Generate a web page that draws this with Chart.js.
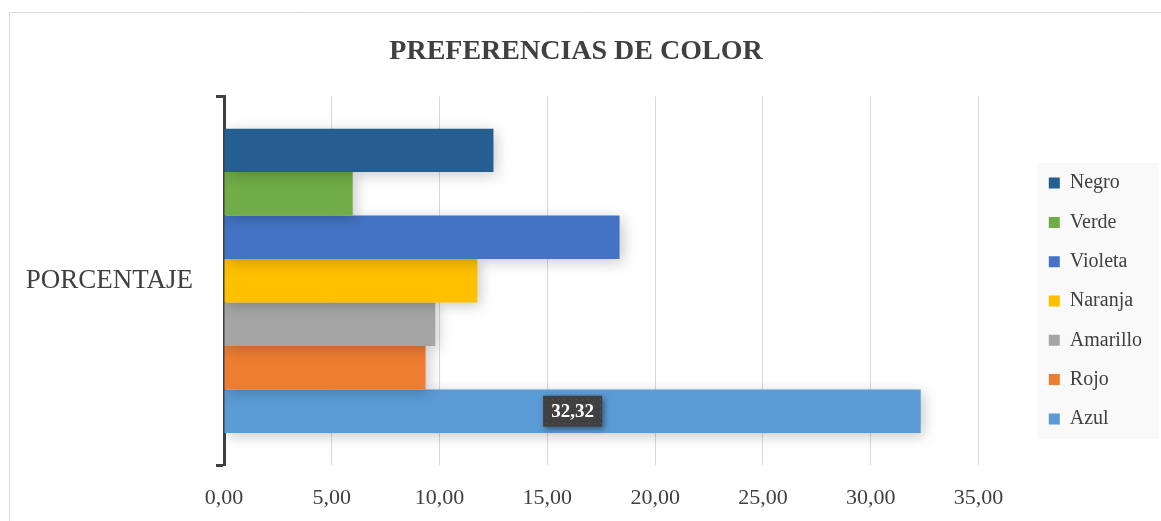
<!DOCTYPE html>
<html>
<head>
<meta charset="utf-8">
<script src="https://cdn.jsdelivr.net/npm/chart.js@4.4.1/dist/chart.umd.min.js"></script>
<style>
  html, body { margin: 0; padding: 0; background: #fff; overflow: hidden; }
  canvas { display: block; }
</style>
</head>
<body>
<canvas id="colorChart" width="1161" height="521"></canvas>
<script>
// datos
const categories = ["PORCENTAJE"];
const seriesNames = ["Negro", "Verde", "Violeta", "Naranja", "Amarillo", "Rojo", "Azul"];
const seriesValues = [12.5, 5.97, 18.35, 11.75, 9.8, 9.35, 32.32];
const seriesColors = ["#255e91", "#70ad47", "#4472c4", "#ffc000", "#a5a5a5", "#ed7d31", "#5b9bd5"];
const xTicks = [0, 5, 10, 15, 20, 25, 30, 35];
const labelledSeries = "Azul";

const fmt = v => v.toFixed(2).replace(".", ",");

// marco, fondo de leyenda, sombra y etiqueta de datos
const decor = {
    id: "decor",
    beforeDraw(chart) {
        const ctx = chart.ctx;
        ctx.save();
        ctx.strokeStyle = "#d9d9d9";
        ctx.lineWidth = 1;
        ctx.beginPath();
        ctx.moveTo(9.5, chart.height);
        ctx.lineTo(9.5, 12.5);
        ctx.lineTo(chart.width, 12.5);
        ctx.stroke();
        const boxes = chart.legend.legendHitBoxes;
        if (boxes && boxes.length) {
            const left = Math.min(...boxes.map(b => b.left)) - 12;
            const right = Math.max(...boxes.map(b => b.left + b.width)) + 17;
            const top = boxes[0].top - 10;
            const last = boxes[boxes.length - 1];
            const bottom = last.top + last.height + 10;
            ctx.fillStyle = "#f9f9f9";
            ctx.fillRect(left, top, right - left, bottom - top);
        }
        ctx.restore();
    },
    beforeDatasetsDraw(chart) {
        const ctx = chart.ctx;
        ctx.save();
        ctx.shadowColor = "rgba(0,0,0,0.22)";
        ctx.shadowBlur = 14;
        ctx.shadowOffsetX = 3;
        ctx.shadowOffsetY = 3;
    },
    afterDatasetsDraw(chart) {
        const ctx = chart.ctx;
        ctx.restore();
        const idx = seriesNames.indexOf(labelledSeries);
        const el = chart.getDatasetMeta(idx).data[0];
        const cx = (el.x + el.base) / 2;
        const cy = el.y;
        const w = 59, h = 31;
        ctx.save();
        ctx.shadowColor = "rgba(0,0,0,0.45)";
        ctx.shadowBlur = 6;
        ctx.shadowOffsetX = 2;
        ctx.shadowOffsetY = 2;
        ctx.fillStyle = "#404040";
        ctx.fillRect(cx - w / 2, cy - h / 2, w, h);
        ctx.restore();
        ctx.save();
        ctx.fillStyle = "rgba(110,110,110,0.5)";
        for (let x = cx - w / 2 + 3; x < cx + w / 2; x += 6) {
            for (let y = cy - h / 2 + 3; y < cy + h / 2; y += 6) {
                ctx.fillRect(Math.round(x), Math.round(y), 1, 1);
            }
        }
        ctx.fillStyle = "#ffffff";
        ctx.font = "bold 19px 'Liberation Serif'";
        ctx.textAlign = "center";
        ctx.textBaseline = "middle";
        ctx.fillText(fmt(seriesValues[idx]), cx, cy + 1);
        ctx.restore();
    }
};

const ctx = document.getElementById("colorChart").getContext("2d");
new Chart(ctx, {
    type: "bar",
    data: {
        labels: categories,
        datasets: seriesNames.map((name, i) => ({
            label: name,
            data: [seriesValues[i]],
            backgroundColor: seriesColors[i],
            borderWidth: 0,
            categoryPercentage: 0.826,
            barPercentage: 1
        }))
    },
    options: {
        indexAxis: "y",
        responsive: false,
        animation: false,
        layout: { padding: { left: 0, right: 9, top: 0, bottom: 10 } },
        scales: {
            x: {
                min: 0,
                max: 35,
                afterBuildTicks: s => { s.ticks = xTicks.map(v => ({ value: v })); },
                afterFit: s => { s.height = 46; },
                ticks: {
                    callback: v => fmt(v),
                    font: { family: "'Liberation Serif'", size: 22 },
                    color: "#404040",
                    padding: 20,
                    maxRotation: 0
                },
                grid: { color: "#d9d9d9", lineWidth: 1, drawTicks: false },
                border: { display: false }
            },
            y: {
                afterFit: s => { s.width = 224; },
                ticks: {
                    font: { family: "'Liberation Serif'", size: 27 },
                    color: "#404040",
                    padding: 23
                },
                grid: {
                    drawOnChartArea: false,
                    offset: true,
                    tickLength: 8,
                    tickWidth: 3,
                    tickColor: "#404040"
                },
                border: { color: "#404040", width: 3 }
            },
            yGap: {
                axis: "y",
                type: "linear",
                position: "right",
                afterFit: s => { s.width = 51; },
                ticks: { display: false },
                grid: { display: false },
                border: { display: false }
            }
        },
        plugins: {
            title: {
                display: true,
                text: "PREFERENCIAS DE COLOR",
                font: { family: "'Liberation Serif'", size: 28, weight: "bold" },
                color: "#404040",
                padding: { top: 35, bottom: 28 }
            },
            legend: {
                position: "right",
                fullSize: false,
                title: { display: true, text: " ", padding: { top: 13, bottom: 13 } },
                labels: {
                    font: { family: "'Liberation Serif'", size: 20 },
                    color: "#404040",
                    boxWidth: 11,
                    boxHeight: 11,
                    padding: 19.3
                }
            },
            tooltip: { enabled: false }
        }
    },
    plugins: [decor]
});
</script>
</body>
</html>
